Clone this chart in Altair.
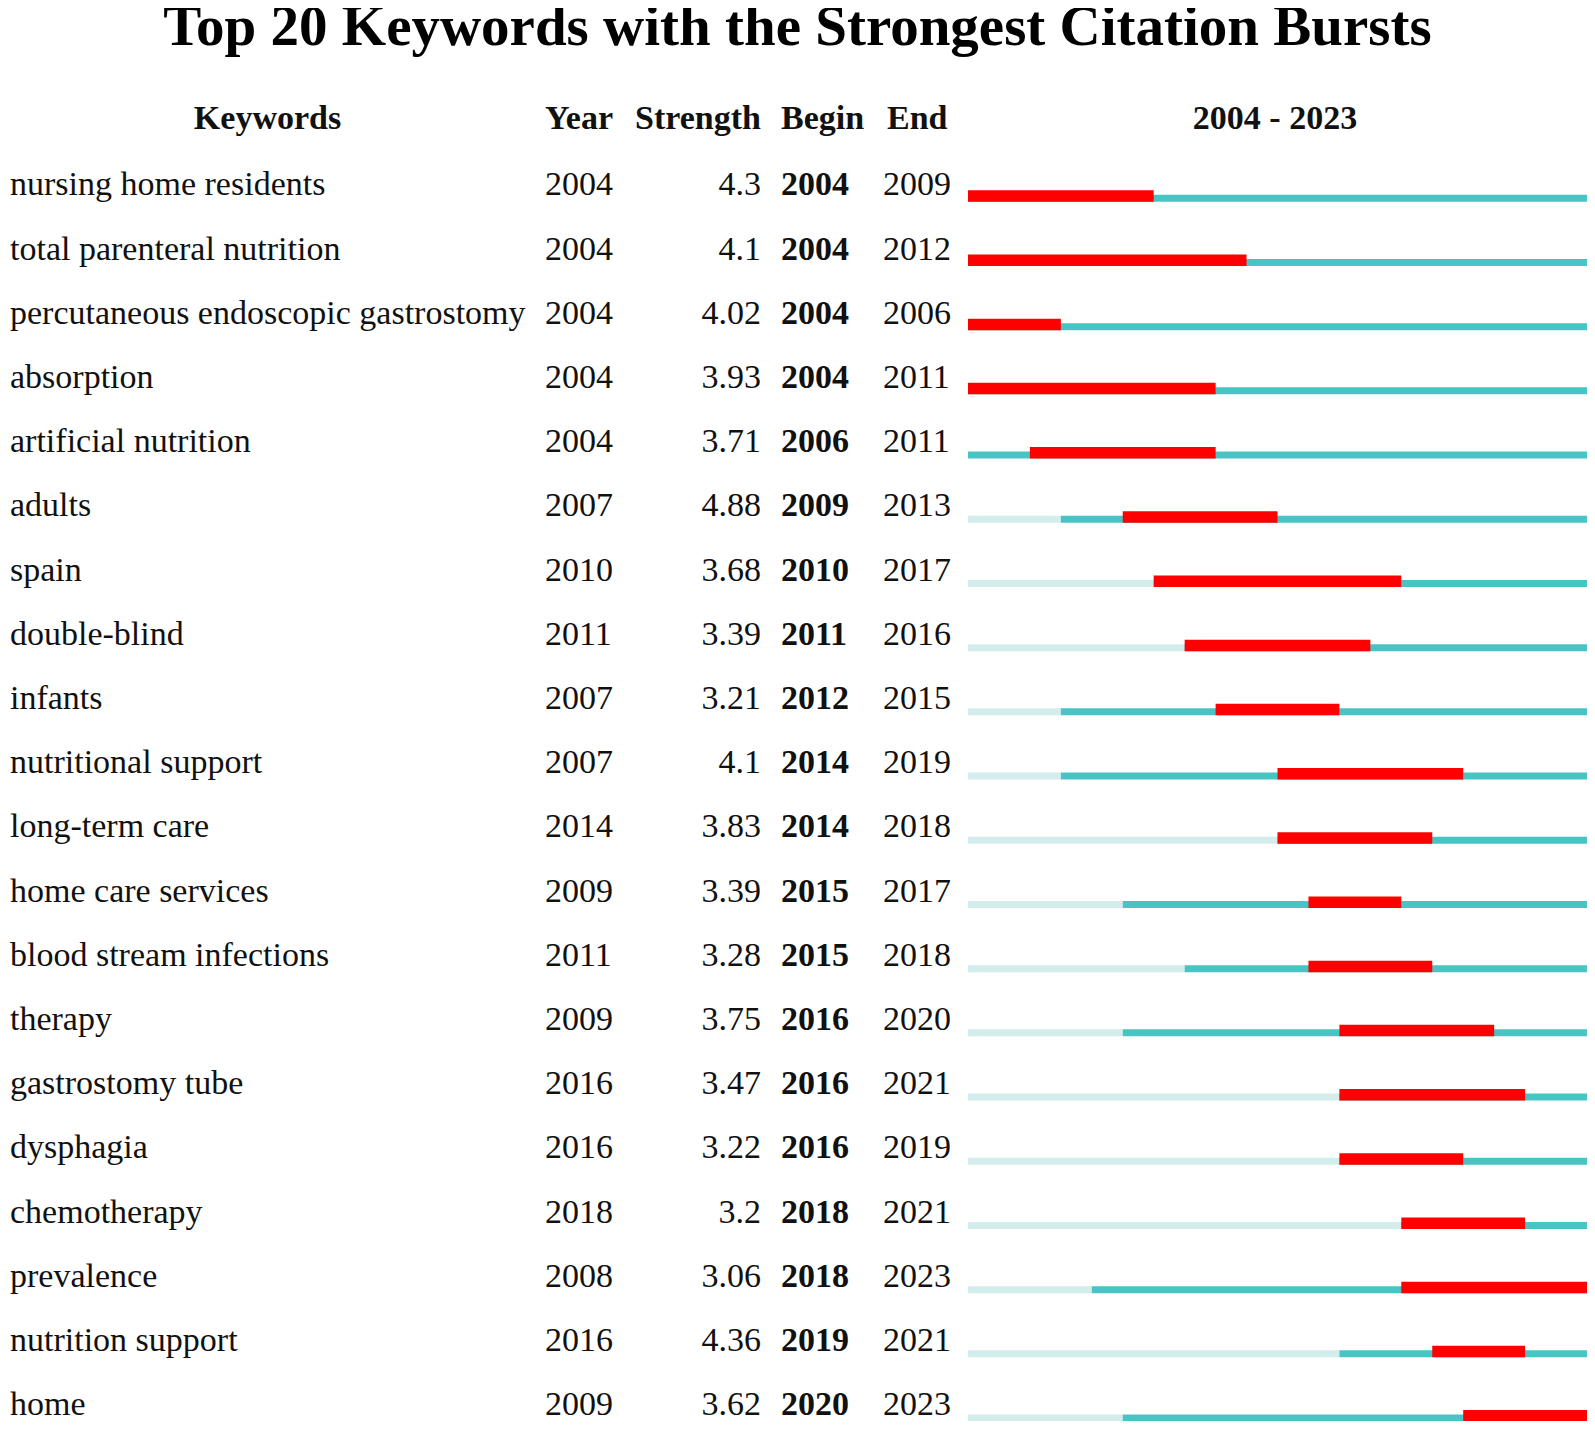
import altair as alt
import pandas as pd

keywords = ["nursing home residents", "total parenteral nutrition", "percutaneous endoscopic gastrostomy",
            "absorption", "artificial nutrition", "adults", "spain", "double-blind", "infants",
            "nutritional support", "long-term care", "home care services", "blood stream infections",
            "therapy", "gastrostomy tube", "dysphagia", "chemotherapy", "prevalence",
            "nutrition support", "home"]
years = [2004, 2004, 2004, 2004, 2004, 2007, 2010, 2011, 2007, 2007, 2014, 2009, 2011, 2009, 2016, 2016,
         2018, 2008, 2016, 2009]
strengths = ["4.3", "4.1", "4.02", "3.93", "3.71", "4.88", "3.68", "3.39", "3.21", "4.1", "3.83", "3.39",
             "3.28", "3.75", "3.47", "3.22", "3.2", "3.06", "4.36", "3.62"]
begins = [2004, 2004, 2004, 2004, 2006, 2009, 2010, 2011, 2012, 2014, 2014, 2015, 2015, 2016, 2016, 2016,
          2018, 2018, 2019, 2020]
ends = [2009, 2012, 2006, 2011, 2011, 2013, 2017, 2016, 2015, 2019, 2018, 2017, 2018, 2020, 2021, 2019,
        2021, 2023, 2021, 2023]
first_year, last_year = 2004, 2023
headers = ["Keywords", "Year", "Strength", "Begin", "End", f"{first_year} - {last_year}"]

FONT = "Liberation Serif"
FS = 34
RED = "#FF0000"
TEAL = "#48C4C4"
LIGHT = "#D3ECEC"
TXT = "#111111"

df = pd.DataFrame({
    "row": list(range(len(keywords))),
    "keyword": keywords,
    "year": years,
    "year_s": [str(y) for y in years],
    "strength": strengths,
    "begin": begins,
    "begin_s": [str(b) for b in begins],
    "end": ends,
    "end_s": [str(e) for e in ends],
})
df["start"] = first_year
df["stop"] = last_year + 1
df["end1"] = df["end"] + 1

ROW0, STEP = 119.3, 64.2
yscale = alt.Scale(domain=[0, len(keywords) - 1], range=[ROW0, ROW0 + STEP * (len(keywords) - 1)])
xscale = alt.Scale(domain=[first_year, last_year + 1], range=[960, 1579])
Y = alt.Y("row:Q", scale=yscale, axis=None)

base = alt.Chart(df)


def col(field, x, align="left", weight="normal"):
    return base.mark_text(font=FONT, fontSize=FS, align=align, baseline="middle",
                          fontWeight=weight, color=TXT).encode(
        x=alt.value(x), y=Y, text=f"{field}:N")


def header(i, x, align):
    return alt.Chart(pd.DataFrame({"h": [headers[i]]})).mark_text(
        font=FONT, fontSize=FS, fontWeight="bold", align=align, baseline="middle", color=TXT
    ).encode(x=alt.value(x), y=alt.value(53.3), text="h:N")


light = base.mark_rule(color=LIGHT, strokeWidth=7, yOffset=12.95, strokeCap="butt").encode(
    x=alt.X("start:Q", scale=xscale, axis=None), x2="year:Q", y=Y)
teal = base.mark_rule(color=TEAL, strokeWidth=7, yOffset=12.95, strokeCap="butt").encode(
    x=alt.X("year:Q", scale=xscale, axis=None), x2="stop:Q", y=Y)
red = base.mark_rule(color=RED, strokeWidth=11.5, yOffset=10.7, strokeCap="butt").encode(
    x=alt.X("begin:Q", scale=xscale, axis=None), x2="end1:Q", y=Y)

layers = [
    header(0, 259.5, "center"), header(1, 537, "left"), header(2, 627, "left"),
    header(3, 773, "left"), header(4, 879, "left"), header(5, 1267, "center"),
    col("keyword", 2), col("year_s", 537), col("strength", 753, "right"),
    col("begin_s", 773, weight="bold"), col("end_s", 875),
    light, teal, red,
]

chart = alt.layer(*layers).properties(
    width=1579, height=1355,
    title=alt.TitleParams("Top 20 Keywords with the Strongest Citation Bursts", font=FONT, fontSize=57,
                          fontWeight="bold", anchor="middle", offset=9, color="#000000"),
    autosize=alt.AutoSizeParams(type="none"),
    padding={"left": 0, "top": 58, "right": 0, "bottom": 0},
).configure_view(stroke=None)

chart.save("out.html", embed_options={"renderer": "svg", "actions": False})
